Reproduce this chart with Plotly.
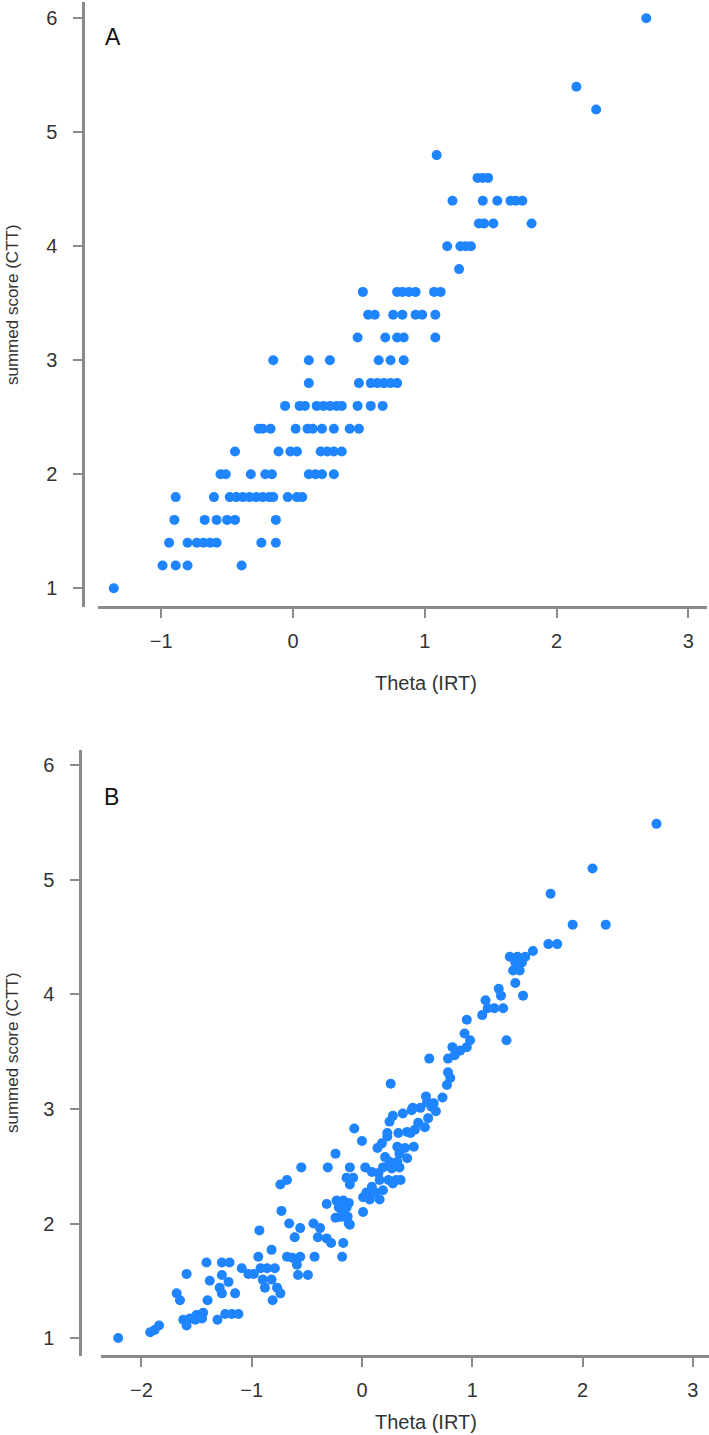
import plotly.graph_objects as go

# ---------------- data ----------------
# Panel A: summed score (CTT) vs Theta (IRT)
a_theta = [
    -1.36,
    -0.99, -0.89, -0.80, -0.39,
    -0.94, -0.80, -0.73, -0.68, -0.63, -0.58, -0.24, -0.13,
    -0.90, -0.67, -0.58, -0.50, -0.44, -0.13,
    -0.89, -0.60, -0.48, -0.43, -0.38, -0.33, -0.28, -0.23, -0.18, -0.15, -0.04, 0.03, 0.07,
    -0.55, -0.51, -0.32, -0.21, -0.16, 0.12, 0.17, 0.22, 0.31,
    -0.44, -0.11, -0.02, 0.03, 0.21, 0.26, 0.31, 0.37,
    -0.26, -0.23, -0.17, 0.02, 0.11, 0.15, 0.22, 0.31, 0.43, 0.50,
    -0.06, 0.05, 0.09, 0.18, 0.23, 0.28, 0.33, 0.37, 0.49, 0.59, 0.68,
    0.12, 0.50, 0.59, 0.64, 0.69, 0.74, 0.79,
    -0.15, 0.12, 0.28, 0.65, 0.74, 0.84,
    0.49, 0.70, 0.79, 0.84, 1.08,
    0.57, 0.62, 0.76, 0.83, 0.93, 0.98, 1.08,
    0.53, 0.79, 0.83, 0.88, 0.93, 1.07, 1.12,
    1.26,
    1.17, 1.27, 1.31, 1.35,
    1.41, 1.45, 1.52, 1.81,
    1.21, 1.44, 1.55, 1.65, 1.69, 1.74,
    1.40, 1.44, 1.48,
    1.09,
    2.30,
    2.15,
    2.68,
]
a_score = (
    [1.0] * 1 + [1.2] * 4 + [1.4] * 8 + [1.6] * 6 + [1.8] * 13 + [2.0] * 9
    + [2.2] * 8 + [2.4] * 10 + [2.6] * 11 + [2.8] * 7 + [3.0] * 6 + [3.2] * 5
    + [3.4] * 7 + [3.6] * 7 + [3.8] * 1 + [4.0] * 4 + [4.2] * 4 + [4.4] * 6
    + [4.6] * 3 + [4.8] * 1 + [5.2] * 1 + [5.4] * 1 + [6.0] * 1
)

# Panel B: summed score (CTT) vs Theta (IRT)
b_theta = [
    -2.21, -1.92, -1.88, -1.84,
    -1.62, -1.56, -1.50, -1.44, -1.59, -1.51, -1.45,
    -1.31, -1.24, -1.18, -1.12,
    -1.68, -1.65, -1.40, -1.59, -1.41, -1.38,
    -1.27, -1.20, -1.27, -1.21, -1.29, -1.27, -1.15,
    -1.09, -1.03, -0.98, -0.94,
    -0.92, -0.86, -0.79, -0.90, -0.82, -0.77, -0.74, -0.81, -0.88,
    -0.82, -0.68, -0.63, -0.56, -0.59, -0.58, -0.49, -0.43, -0.18, -0.17,
    -0.93, -0.73, -0.66, -0.56, -0.61,
    -0.44, -0.38, -0.40, -0.32, -0.28,
    -0.74, -0.68, -0.55, -0.31, -0.24,
    -0.23, -0.17, -0.21, -0.14, -0.13, -0.20, -0.11, -0.32,
    -0.24, -0.18, -0.12, -0.12, -0.17, 0.01,
    0.01, 0.10, 0.19, 0.28, 0.35, 0.07, 0.16, 0.09, 0.04, 0.12,
    0.16, 0.24, 0.31, -0.14, -0.08, -0.11,
    0.03, 0.09, 0.15, -0.11, 0.19, 0.27, 0.34,
    0.21, 0.25, 0.32, 0.41, 0.34,
    0.23, 0.18, 0.14, 0.32, 0.39, 0.47, -0.07, 0.00,
    0.59, 0.63, 0.53, 0.45, 0.37, 0.28, 0.25, 0.60, 0.57, 0.48, 0.41, 0.33, 0.51,
    0.46, 0.23, 0.65, 0.44, 0.67,
    0.26, 0.58, 0.73, 0.78, 0.80, 0.77, 0.61,
    0.82, 0.89, 0.84, 0.78, 0.93, 0.98, 0.95, 1.31,
    0.95, 1.09, 1.14, 1.20, 1.28, 1.12, 1.24, 1.26, 1.46, 1.39,
    1.37, 1.43, 1.39, 1.45, 1.34, 1.41, 1.48, 1.55,
    1.69, 1.77, 1.91, 2.21, 1.71, 2.09, 2.67,
]
b_score = [
    1.00, 1.05, 1.07, 1.11,
    1.16, 1.17, 1.20, 1.22, 1.11, 1.16, 1.17,
    1.16, 1.21, 1.21, 1.21,
    1.39, 1.33, 1.33, 1.56, 1.66, 1.50,
    1.66, 1.66, 1.55, 1.49, 1.44, 1.39, 1.39,
    1.61, 1.56, 1.56, 1.71,
    1.61, 1.61, 1.61, 1.51, 1.51, 1.44, 1.39, 1.33, 1.44,
    1.77, 1.71, 1.70, 1.71, 1.64, 1.55, 1.55, 1.71, 1.71, 1.83,
    1.94, 2.11, 2.00, 1.96, 1.88,
    2.00, 1.96, 1.88, 1.87, 1.83,
    2.34, 2.38, 2.49, 2.49, 2.61,
    2.20, 2.20, 2.14, 2.14, 2.06, 2.06, 1.99, 2.17,
    2.05, 2.06, 2.00, 2.18, 2.12, 2.10,
    2.23, 2.27, 2.29, 2.35, 2.38, 2.21, 2.21, 2.32, 2.27, 2.27,
    2.38, 2.38, 2.38, 2.40, 2.40, 2.34,
    2.49, 2.45, 2.44, 2.49, 2.49, 2.48, 2.49,
    2.58, 2.54, 2.54, 2.57, 2.61,
    2.76, 2.70, 2.66, 2.67, 2.66, 2.67, 2.83, 2.72,
    3.06, 3.02, 3.01, 2.99, 2.96, 2.94, 2.89, 2.92, 2.84, 2.82, 2.80, 2.79, 2.88,
    3.01, 2.79, 3.05, 2.79, 2.98,
    3.22, 3.11, 3.10, 3.32, 3.27, 3.21, 3.44,
    3.54, 3.51, 3.47, 3.44, 3.66, 3.60, 3.54, 3.60,
    3.78, 3.82, 3.88, 3.88, 3.88, 3.95, 4.05, 3.99, 3.99, 4.10,
    4.21, 4.21, 4.28, 4.28, 4.33, 4.33, 4.33, 4.38,
    4.44, 4.44, 4.61, 4.61, 4.88, 5.10, 5.49,
]

y_ticks = [1, 2, 3, 4, 5, 6]
a_x_ticks = [-1, 0, 1, 2, 3]
b_x_ticks = [-2, -1, 0, 1, 2, 3]
x_title = "Theta (IRT)"
y_title = "summed score (CTT)"
panel_labels = ["A", "B"]

# ---------------- layout helpers ----------------
W, H = 709, 1435
px_x = lambda p: p / W
px_y = lambda p: 1 - p / H

FONT = "Liberation Sans, Arial, sans-serif"
DOT = "#1f84ff"
AX = "#8a8a8a"
TXT = "#333333"
TICKFONT = dict(family=FONT, size=20, color=TXT)

fig = go.Figure()
fig.add_trace(go.Scatter(x=a_theta, y=a_score, mode="markers", xaxis="x", yaxis="y",
                         marker=dict(color=DOT, size=10, line=dict(width=0)),
                         showlegend=False, hoverinfo="x+y"))
fig.add_trace(go.Scatter(x=b_theta, y=b_score, mode="markers", xaxis="x2", yaxis="y2",
                         marker=dict(color=DOT, size=10, line=dict(width=0)),
                         showlegend=False, hoverinfo="x+y"))

common_axis = dict(showline=True, linecolor=AX, linewidth=2.5, ticks="outside",
                   ticklen=9, tickwidth=2, tickcolor=AX, showgrid=False,
                   zeroline=False, tickfont=TICKFONT, fixedrange=True)
xa = dict(common_axis, ticklabelstandoff=6)
ya = dict(common_axis, ticklabelstandoff=12)

fig.update_layout(
    width=W, height=H, margin=dict(l=0, r=0, t=0, b=0),
    paper_bgcolor="white", plot_bgcolor="white",
    xaxis=dict(xa, domain=[px_x(98), px_x(707)], range=[-1.4795, 3.141],
               anchor="free", position=px_y(607), tickvals=a_x_ticks),
    yaxis=dict(ya, domain=[px_y(607), px_y(2)], range=[0.836, 6.143],
               anchor="free", position=px_x(83), tickvals=y_ticks),
    xaxis2=dict(xa, domain=[px_x(101), px_x(709)], range=[-2.366, 3.146],
                anchor="free", position=px_y(1356), tickvals=b_x_ticks),
    yaxis2=dict(ya, domain=[px_y(1356), px_y(750)], range=[0.843, 6.135],
                anchor="free", position=px_x(80), tickvals=y_ticks),
)

ann = []
# axis titles
for cx, cy in [(426, 683), (426, 1422)]:
    ann.append(dict(x=px_x(cx), y=px_y(cy), xref="paper", yref="paper", text=x_title,
                    showarrow=False, font=dict(family=FONT, size=20, color=TXT),
                    xanchor="center", yanchor="middle"))
for cx, cy in [(12, 305), (12, 1053)]:
    ann.append(dict(x=px_x(cx), y=px_y(cy), xref="paper", yref="paper", text=y_title,
                    textangle=-90, showarrow=False,
                    font=dict(family=FONT, size=17, color=TXT),
                    xanchor="center", yanchor="middle"))
# panel letters
for lbl, (cx, cy) in zip(panel_labels, [(113, 37), (111, 797)]):
    ann.append(dict(x=px_x(cx), y=px_y(cy), xref="paper", yref="paper", text=lbl,
                    showarrow=False, font=dict(family=FONT, size=23, color="#111111"),
                    xanchor="center", yanchor="middle"))
fig.update_layout(annotations=ann)

fig.write_html("out.html")
